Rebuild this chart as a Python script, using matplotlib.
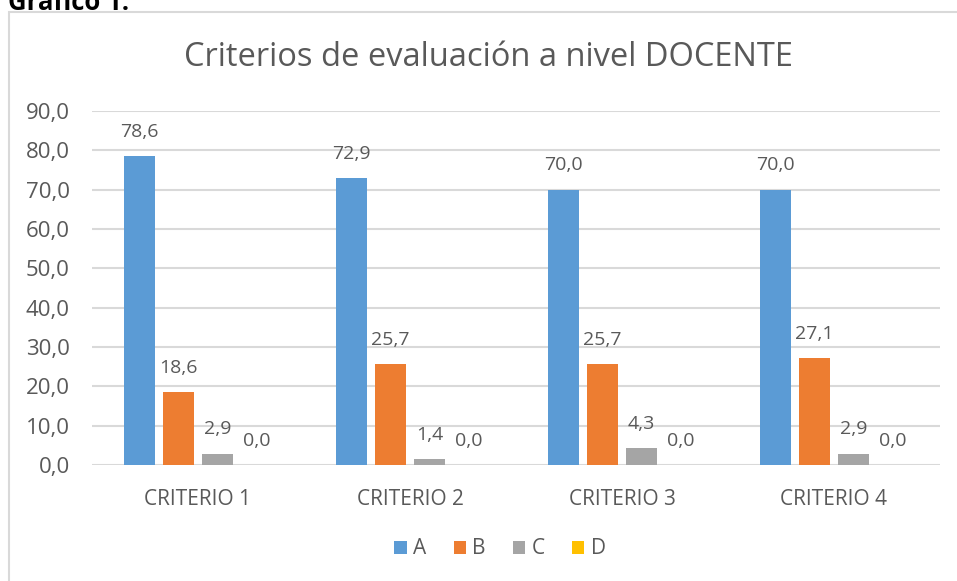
import matplotlib.pyplot as plt
import numpy as np
from matplotlib.patches import Rectangle

# data
categorias = ["CRITERIO 1", "CRITERIO 2", "CRITERIO 3", "CRITERIO 4"]
serie_a = [78.6, 72.9, 70.0, 70.0]
serie_b = [18.6, 25.7, 25.7, 27.1]
serie_c = [2.9, 1.4, 4.3, 2.9]
serie_d = [0.0, 0.0, 0.0, 0.0]
series = ["A", "B", "C", "D"]
colores = ["#5B9BD5", "#ED7D31", "#A5A5A5", "#FFC000"]

plt.rcParams['font.family'] = ['Open Sans', 'DejaVu Sans']
gris = "#595959"

fig = plt.figure(figsize=(9.57, 5.81), dpi=100)
ax = fig.add_axes([92/957, 1-465/581, 848/957, 354/581])

# border of the chart box
fig.patches.append(Rectangle((9/957, -0.1), 1.2, 1-12/581+0.1, transform=fig.transFigure,
                             fill=False, edgecolor="#D9D9D9", linewidth=1.5))
fig.text(8/957, 1-10/581, "Gráfico 1:", fontsize=18.5, fontweight='bold', color="black",
         va='baseline', ha='left')

x = np.arange(len(categorias))
ancho = 31/212
paso = 39/212
for i, (nombre, vals) in enumerate(zip(series, [serie_a, serie_b, serie_c, serie_d])):
    pos = x + (i - 1.5) * paso
    ax.bar(pos, vals, ancho, color=colores[i], label=nombre, zorder=3)
    for px, v in zip(pos, vals):
        ax.annotate(f"{v:.1f}".replace(".", ","), (px, v), xytext=(0, 11),
                    textcoords="offset points", ha='center', va='bottom',
                    fontsize=14, color=gris)

ax.set_xlim(-0.5, 3.5)
ax.set_ylim(0, 90)
ax.set_yticks(np.arange(0, 91, 10))
ax.set_yticklabels([f"{t:.1f}".replace(".", ",") for t in np.arange(0, 91, 10)])
ax.set_xticks(x)
ax.set_xticklabels(categorias)
ax.tick_params(axis='y', length=0, pad=16, labelsize=16, labelcolor=gris)
ax.tick_params(axis='x', length=0, pad=17, labelsize=15, labelcolor=gris)
ax.grid(axis='y', color="#D9D9D9", linewidth=1.5, zorder=0)
for s in ax.spines.values():
    s.set_visible(False)

fig.text(488/957, 1-58/581, "Criterios de evaluación a nivel DOCENTE", fontsize=23.5,
         color=gris, ha='center', va='center')

leg = ax.legend(loc='center', bbox_to_anchor=(500/957, 1-549/581), bbox_transform=fig.transFigure,
                ncol=4, frameon=False, fontsize=15, handlelength=0.6, handleheight=0.6,
                handletextpad=0.3, columnspacing=1.3, labelcolor=gris)

plt.savefig("out.png", dpi=100)
